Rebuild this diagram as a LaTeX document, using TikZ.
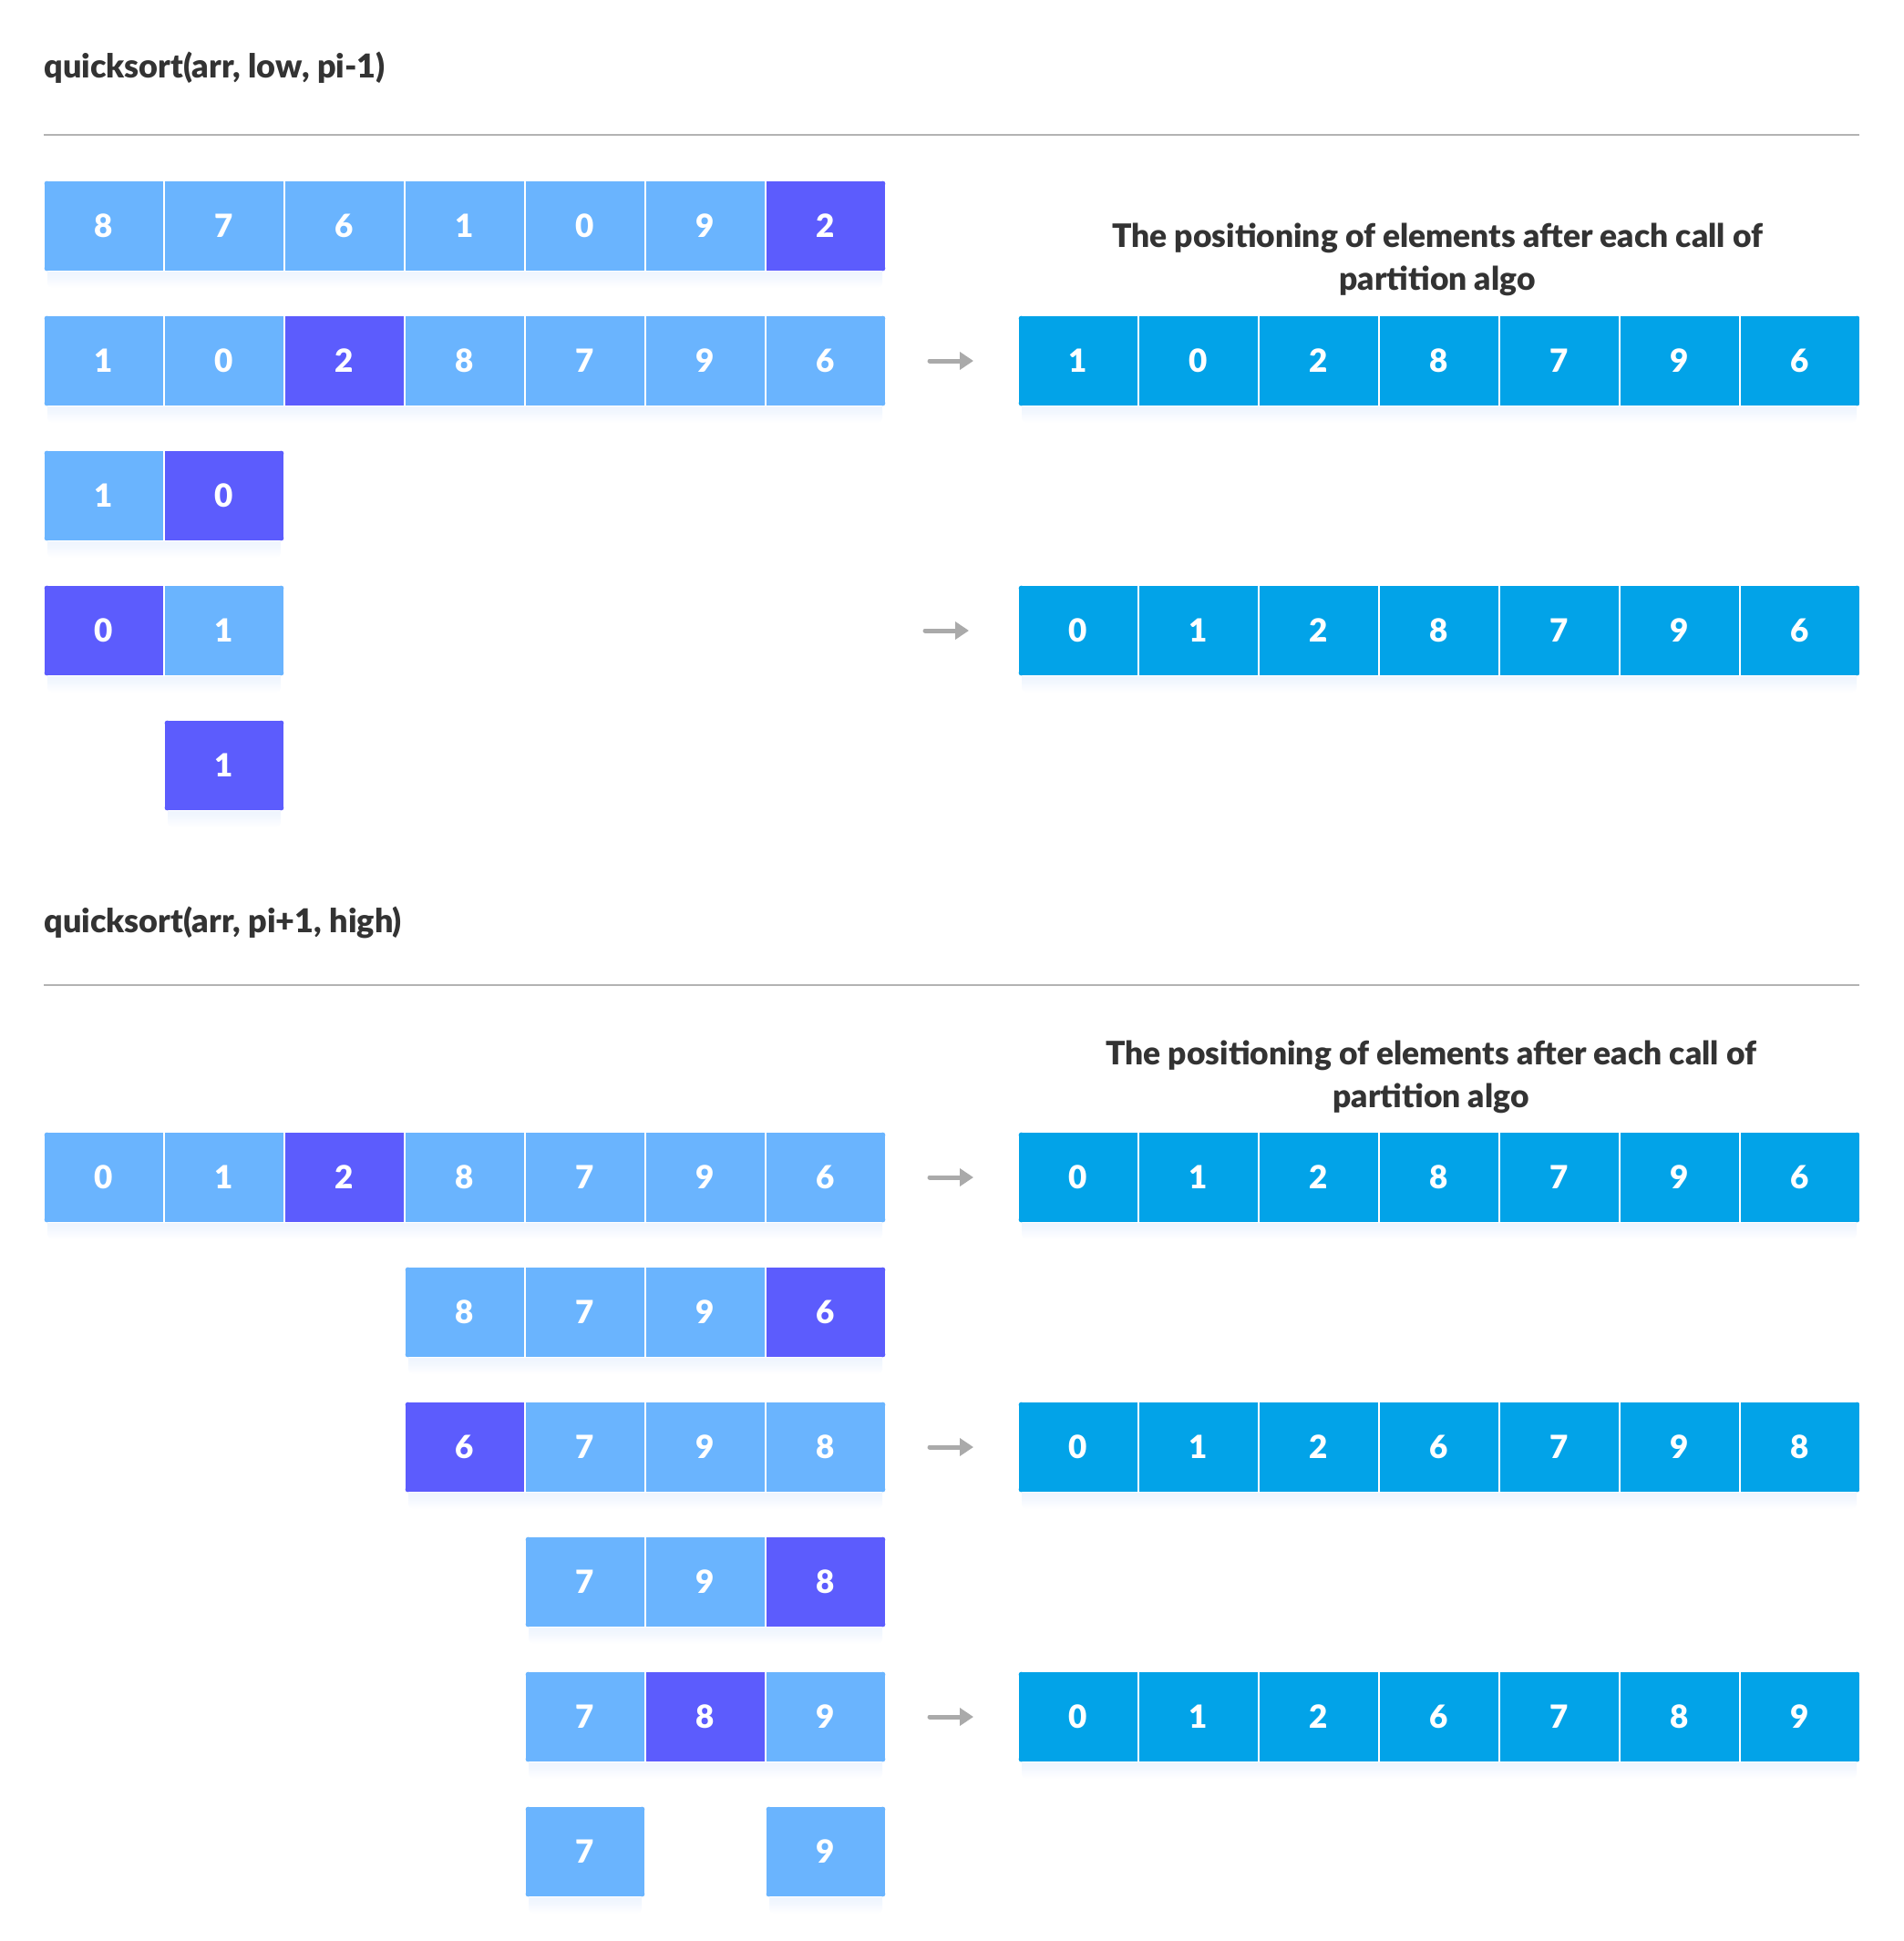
\documentclass[tikz,border=0pt]{standalone}
\usepackage{fontspec}
\setmainfont{Lato}[BoldFont = {Lato Black}]
\usepackage{tikz}
\usetikzlibrary{arrows.meta, positioning}

\definecolor{cellblue}{HTML}{6AB4FE}
\definecolor{pivotblue}{HTML}{5C5CFD}
\definecolor{sortedblue}{HTML}{02A3E8}
\definecolor{shadowblue}{HTML}{EAF2FE}
\definecolor{rulegray}{HTML}{B3B3B3}
\definecolor{textgray}{HTML}{333333}

\begin{document}
\begin{tikzpicture} [x = 1pt, y = 1pt, node distance = 66pt, on grid, font=\bfseries\fontsize{17.5}{21}\selectfont,
	cell/.style = {rectangle, minimum width = 66pt, minimum height = 50pt, inner sep = 0pt, fill = cellblue,
	draw = white, line width = 1pt, text = white},
	pivot/.style = {cell, fill = pivotblue},
	sorted/.style = {cell, fill = sortedblue},
	shade/.style = {top color = shadowblue, bottom color = white, middle color = shadowblue!60, rounded corners = 2.5pt},
	round/.style = {rounded corners = 2.5pt},
	heading/.style = {anchor = base, text = textgray, inner sep = 0pt, font = \bfseries\fontsize{17.7}{21}\selectfont},
	title/.style = {heading, anchor = base west, font = \bfseries\fontsize{18}{22}\selectfont},
	push/.style = {-{Triangle[length = 7.5pt, width = 9.5pt]}, line width = 2.5pt, draw = rulegray!95!black,
	line cap = round}]
		% Page size
		\useasboundingbox (0,0) rectangle (1044,-1065);

		% Titles and rules
		\node (t1) [title] at (24,-43) {quicksort(arr, low, pi-1)};
		\draw [rulegray, line width = 1pt] (24,-74) -- (1020,-74);
		\node (t2) [title] at (24,-511.5) {quicksort(arr, pi+1, high)};
		\draw [rulegray, line width = 1pt] (24,-540.5) -- (1020,-540.5);

		\node (h1) [heading] at (788.5,-135.5) {The positioning of elements after each call of};
		\node (h1b) [heading] at (788.5,-159) {partition algo};
		\node (h2) [heading] at (785,-584) {The positioning of elements after each call of};
		\node (h2b) [heading] at (785,-607.5) {partition algo};

		% Left part : quicksort(arr, low, pi-1)
		\shade [shade] (26,-146) rectangle (484,-158);
		\begin{scope}
			\clip [round] (24,-99) rectangle (486,-149);
			\node (a1) [cell] at (57,-124) {8};
			\node (a2) [cell, right = of a1] {7}; \node (a3) [cell, right = of a2] {6};
			\node (a4) [cell, right = of a3] {1}; \node (a5) [cell, right = of a4] {0};
			\node (a6) [cell, right = of a5] {9}; \node (a7) [pivot, right = of a6] {2};
		\end{scope}

		\shade [shade] (26,-220) rectangle (484,-232);
		\begin{scope}
			\clip [round] (24,-173) rectangle (486,-223);
			\node (b1) [cell] at (57,-198) {1};
			\node (b2) [cell, right = of b1] {0}; \node (b3) [pivot, right = of b2] {2};
			\node (b4) [cell, right = of b3] {8}; \node (b5) [cell, right = of b4] {7};
			\node (b6) [cell, right = of b5] {9}; \node (b7) [cell, right = of b6] {6};
		\end{scope}

		\shade [shade] (26,-294) rectangle (154,-306);
		\begin{scope}
			\clip [round] (24,-247) rectangle (156,-297);
			\node (c1) [cell] at (57,-272) {1};
			\node (c2) [pivot, right = of c1] {0};
		\end{scope}

		\shade [shade] (26,-368) rectangle (154,-380);
		\begin{scope}
			\clip [round] (24,-321) rectangle (156,-371);
			\node (d1) [pivot] at (57,-346) {0};
			\node (d2) [cell, right = of d1] {1};
		\end{scope}

		\shade [shade] (92,-442) rectangle (154,-454);
		\begin{scope}
			\clip [round] (90,-395) rectangle (156,-445);
			\node (e1) [pivot] at (123,-420) {1};
		\end{scope}

		% Sorted rows (top)
		\shade [shade] (560.5,-220) rectangle (1018.5,-232);
		\begin{scope}
			\clip [round] (558.5,-173) rectangle (1020.5,-223);
			\node (sb1) [sorted] at (591.5,-198) {1};
			\node (sb2) [sorted, right = of sb1] {0}; \node (sb3) [sorted, right = of sb2] {2};
			\node (sb4) [sorted, right = of sb3] {8}; \node (sb5) [sorted, right = of sb4] {7};
			\node (sb6) [sorted, right = of sb5] {9}; \node (sb7) [sorted, right = of sb6] {6};
		\end{scope}

		\shade [shade] (560.5,-368) rectangle (1018.5,-380);
		\begin{scope}
			\clip [round] (558.5,-321) rectangle (1020.5,-371);
			\node (sd1) [sorted] at (591.5,-346) {0};
			\node (sd2) [sorted, right = of sd1] {1}; \node (sd3) [sorted, right = of sd2] {2};
			\node (sd4) [sorted, right = of sd3] {8}; \node (sd5) [sorted, right = of sd4] {7};
			\node (sd6) [sorted, right = of sd5] {9}; \node (sd7) [sorted, right = of sd6] {6};
		\end{scope}

		% Right part : quicksort(arr, pi+1, high)
		\shade [shade] (26,-668) rectangle (484,-680);
		\begin{scope}
			\clip [round] (24,-621) rectangle (486,-671);
			\node (f1) [cell] at (57,-646) {0};
			\node (f2) [cell, right = of f1] {1}; \node (f3) [pivot, right = of f2] {2};
			\node (f4) [cell, right = of f3] {8}; \node (f5) [cell, right = of f4] {7};
			\node (f6) [cell, right = of f5] {9}; \node (f7) [cell, right = of f6] {6};
		\end{scope}

		\shade [shade] (224,-742) rectangle (484,-754);
		\begin{scope}
			\clip [round] (222,-695) rectangle (486,-745);
			\node (g1) [cell] at (255,-720) {8};
			\node (g2) [cell, right = of g1] {7}; \node (g3) [cell, right = of g2] {9};
			\node (g4) [pivot, right = of g3] {6};
		\end{scope}

		\shade [shade] (224,-816) rectangle (484,-828);
		\begin{scope}
			\clip [round] (222,-769) rectangle (486,-819);
			\node (h1) [pivot] at (255,-794) {6};
			\node (h2) [cell, right = of h1] {7}; \node (h3) [cell, right = of h2] {9};
			\node (h4) [cell, right = of h3] {8};
		\end{scope}

		\shade [shade] (290,-890) rectangle (484,-902);
		\begin{scope}
			\clip [round] (288,-843) rectangle (486,-893);
			\node (i1) [cell] at (321,-868) {7};
			\node (i2) [cell, right = of i1] {9}; \node (i3) [pivot, right = of i2] {8};
		\end{scope}

		\shade [shade] (290,-964) rectangle (484,-976);
		\begin{scope}
			\clip [round] (288,-917) rectangle (486,-967);
			\node (j1) [cell] at (321,-942) {7};
			\node (j2) [pivot, right = of j1] {8}; \node (j3) [cell, right = of j2] {9};
		\end{scope}

		\shade [shade] (290,-1038) rectangle (352,-1050);
		\shade [shade] (422,-1038) rectangle (484,-1050);
		\begin{scope}
			\clip [round] (288,-991) rectangle (354,-1041);
			\node (k1) [cell] at (321,-1016) {7};
		\end{scope}
		\begin{scope}
			\clip [round] (420,-991) rectangle (486,-1041);
			\node (k2) [cell] at (453,-1016) {9};
		\end{scope}

		% Sorted rows (bottom)
		\shade [shade] (560.5,-668) rectangle (1018.5,-680);
		\begin{scope}
			\clip [round] (558.5,-621) rectangle (1020.5,-671);
			\node (sf1) [sorted] at (591.5,-646) {0};
			\node (sf2) [sorted, right = of sf1] {1}; \node (sf3) [sorted, right = of sf2] {2};
			\node (sf4) [sorted, right = of sf3] {8}; \node (sf5) [sorted, right = of sf4] {7};
			\node (sf6) [sorted, right = of sf5] {9}; \node (sf7) [sorted, right = of sf6] {6};
		\end{scope}

		\shade [shade] (560.5,-816) rectangle (1018.5,-828);
		\begin{scope}
			\clip [round] (558.5,-769) rectangle (1020.5,-819);
			\node (sh1) [sorted] at (591.5,-794) {0};
			\node (sh2) [sorted, right = of sh1] {1}; \node (sh3) [sorted, right = of sh2] {2};
			\node (sh4) [sorted, right = of sh3] {6}; \node (sh5) [sorted, right = of sh4] {7};
			\node (sh6) [sorted, right = of sh5] {9}; \node (sh7) [sorted, right = of sh6] {8};
		\end{scope}

		\shade [shade] (560.5,-964) rectangle (1018.5,-976);
		\begin{scope}
			\clip [round] (558.5,-917) rectangle (1020.5,-967);
			\node (sj1) [sorted] at (591.5,-942) {0};
			\node (sj2) [sorted, right = of sj1] {1}; \node (sj3) [sorted, right = of sj2] {2};
			\node (sj4) [sorted, right = of sj3] {6}; \node (sj5) [sorted, right = of sj4] {7};
			\node (sj6) [sorted, right = of sj5] {8}; \node (sj7) [sorted, right = of sj6] {9};
		\end{scope}

		% Draw Arrows
		\coordinate (pb) at (510,-198);
		\coordinate (pd) at (507.5,-346);
		\coordinate (pf) at (510,-646);
		\coordinate (ph) at (510,-794);
		\coordinate (pj) at (510,-942);
		\draw [push, shorten > = 24pt] (pb) -- (sb1.west);
		\draw [push, shorten > = 26.5pt] (pd) -- (sd1.west);
		\draw [push, shorten > = 24pt] (pf) -- (sf1.west);
		\draw [push, shorten > = 24pt] (ph) -- (sh1.west);
		\draw [push, shorten > = 24pt] (pj) -- (sj1.west);
	\end{tikzpicture}
\end{document}
